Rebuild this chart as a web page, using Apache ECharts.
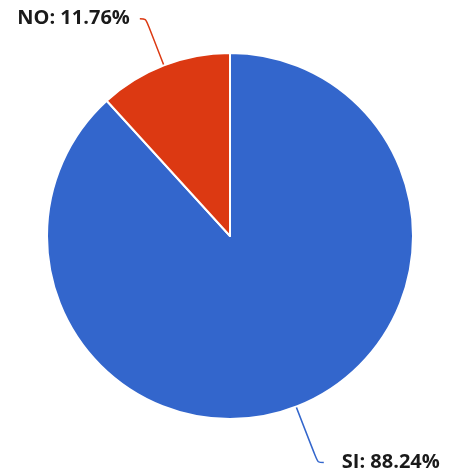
<!DOCTYPE html>
<html>
<head>
<meta charset="utf-8">
<script src="https://cdn.jsdelivr.net/npm/echarts@6/dist/echarts.min.js"></script>
<style>
  html, body { margin: 0; padding: 0; background: #fff; }
  #chart { width: 451px; height: 473px; }
</style>
</head>
<body>
<div id="chart"></div>
<script>
// Survey answers and their counts
const categories = ['SI', 'NO'];
const counts = [15, 2];
const colors = ['#3366CC', '#DC3912'];

// Per-slice leader line settings
const lineLength = [60, 50];
const labelGap = [18, 10];

const chart = echarts.init(document.getElementById('chart'), null, { renderer: 'canvas' });

chart.setOption({
  animation: false,
  color: colors,
  series: [{
    type: 'pie',
    center: [230, 236],
    radius: 183,
    startAngle: 90,
    clockwise: true,
    itemStyle: { borderColor: '#ffffff', borderWidth: 2 },
    label: {
      show: true,
      formatter: p => p.name + ': ' + p.percent.toFixed(2) + '%',
      fontFamily: '"Open Sans", sans-serif',
      fontWeight: 'bold',
      fontSize: 20,
      color: '#1a1a1a'
    },
    labelLine: { show: true, length2: 6, smooth: true, lineStyle: { width: 1.5 } },
    data: categories.map((c, i) => ({
      name: c,
      value: counts[i],
      label: { distanceToLabelLine: labelGap[i] },
      labelLine: { length: lineLength[i] }
    }))
  }]
});
</script>
</body>
</html>
